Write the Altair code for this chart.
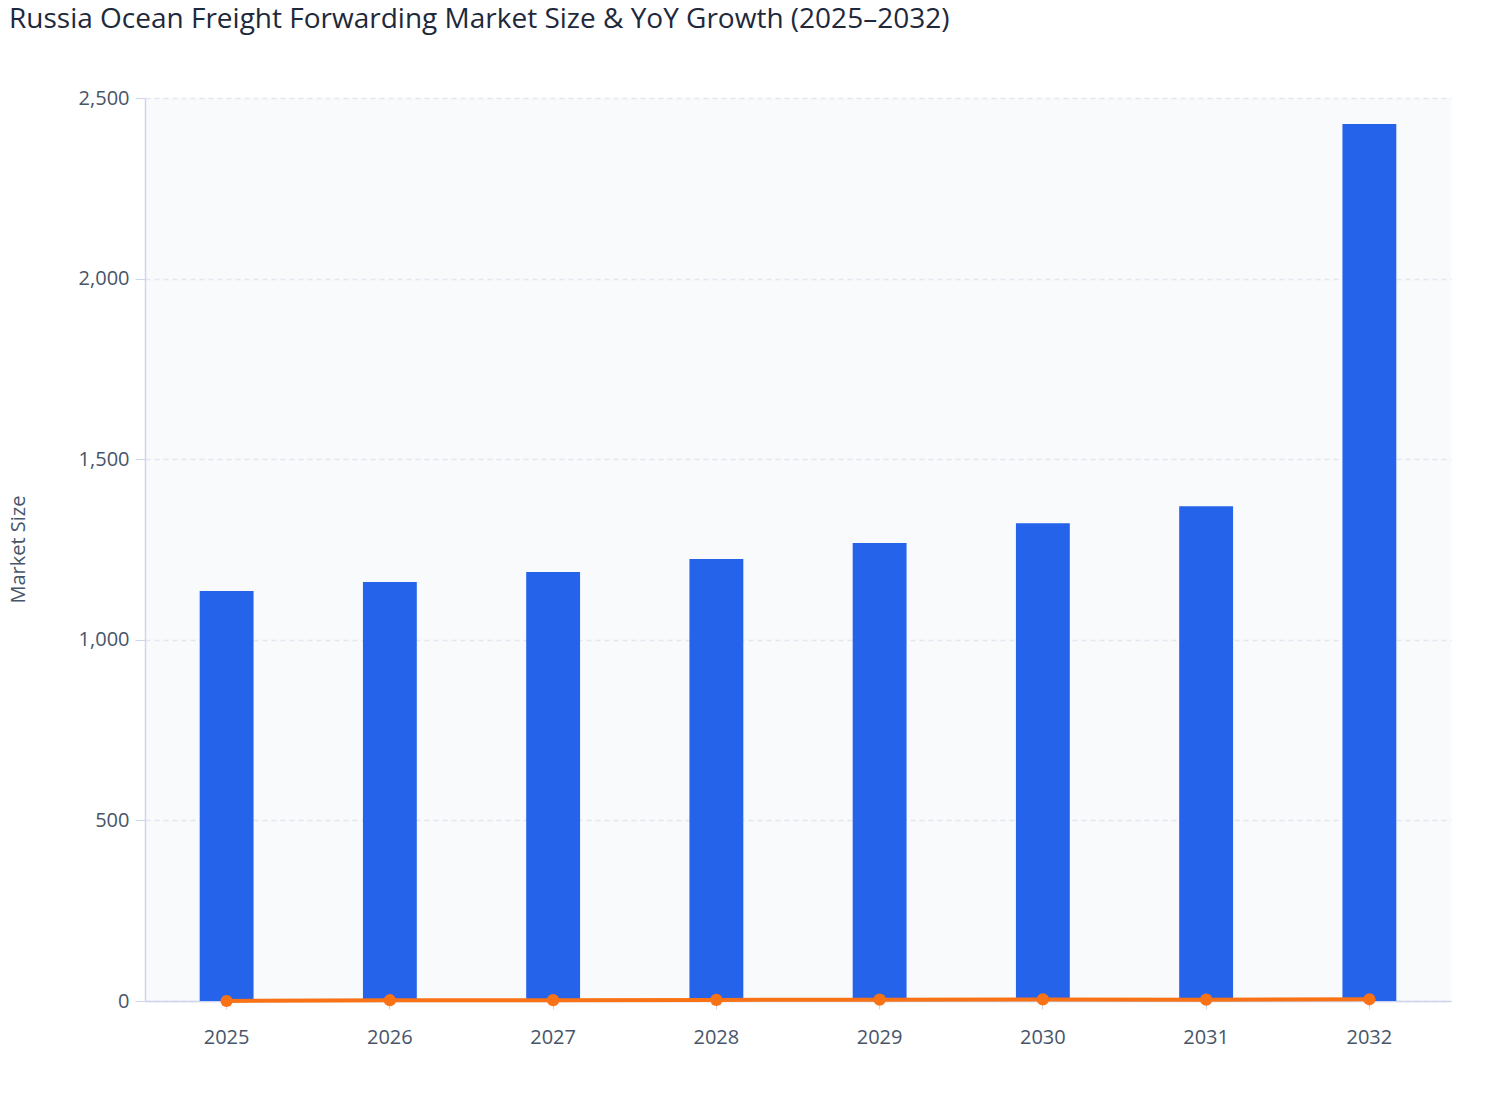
import altair as alt
import pandas as pd

years = ["2025", "2026", "2027", "2028", "2029", "2030", "2031", "2032"]
market_size = [1135, 1160, 1188, 1224, 1268, 1323, 1370, 2428]
yoy_growth = [0.0, 2.2, 2.4, 3.0, 3.6, 4.3, 3.6, 4.8]

df = pd.DataFrame({"Year": years, "Market Size": market_size, "YoY Growth": yoy_growth})

axis_col = "#cdd5ee"
label_col = "#475569"
font = "Open Sans"

x = alt.X("Year:N", sort=years, title=None,
          scale=alt.Scale(paddingInner=0.67, paddingOuter=0.335),
          axis=alt.Axis(labelAngle=0, labelFontSize=20, labelColor=label_col, labelFont=font,
                        labelPadding=18, tickSize=8, tickColor=axis_col, domainColor=axis_col,
                        domainWidth=1.5, grid=False))

bars = alt.Chart(df).mark_bar(color="#2563eb").encode(
    x=x,
    y=alt.Y("Market Size:Q", title="Market Size",
            scale=alt.Scale(domain=[0, 2500], nice=False),
            axis=alt.Axis(values=[0, 500, 1000, 1500, 2000, 2500], format=",.0f",
                          labelFontSize=20, labelColor=label_col, labelFont=font,
                          labelPadding=6, tickSize=10, tickColor=axis_col,
                          domainColor=axis_col, domainWidth=1.5,
                          gridColor="#e2e8f0", gridDash=[5, 4], gridWidth=1.5,
                          titleFontSize=20, titleFont=font, titleColor=label_col,
                          titleFontWeight="normal", titleX=-127, titleY=451,
                          titleAlign="center", titleBaseline="middle")),
)

line = alt.Chart(df).mark_line(color="#f97316", strokeWidth=4,
                               point=alt.OverlayMarkDef(color="#f97316", size=150, filled=True, opacity=1)).encode(
    x=alt.X("Year:N", sort=years),
    y=alt.Y("YoY Growth:Q"),
)

chart = alt.layer(bars, line).properties(
    width=1306,
    height=903,
    autosize=alt.AutoSizeParams(type="none"),
    padding={"left": 137, "top": 90, "right": 49, "bottom": 111},
    view=alt.ViewBackground(fill="#f8fafc", stroke="transparent", strokeWidth=0),
    title=alt.TitleParams(
        "Russia Ocean Freight Forwarding Market Size & YoY Growth (2025–2032)",
        anchor="start", frame="group", dx=-136, offset=54,
        fontSize=28, font=font, fontWeight=500, color="#1e293b",
    ),
).configure(background="white")

chart.save("out.html", embed_options={"renderer": "svg", "actions": False})
